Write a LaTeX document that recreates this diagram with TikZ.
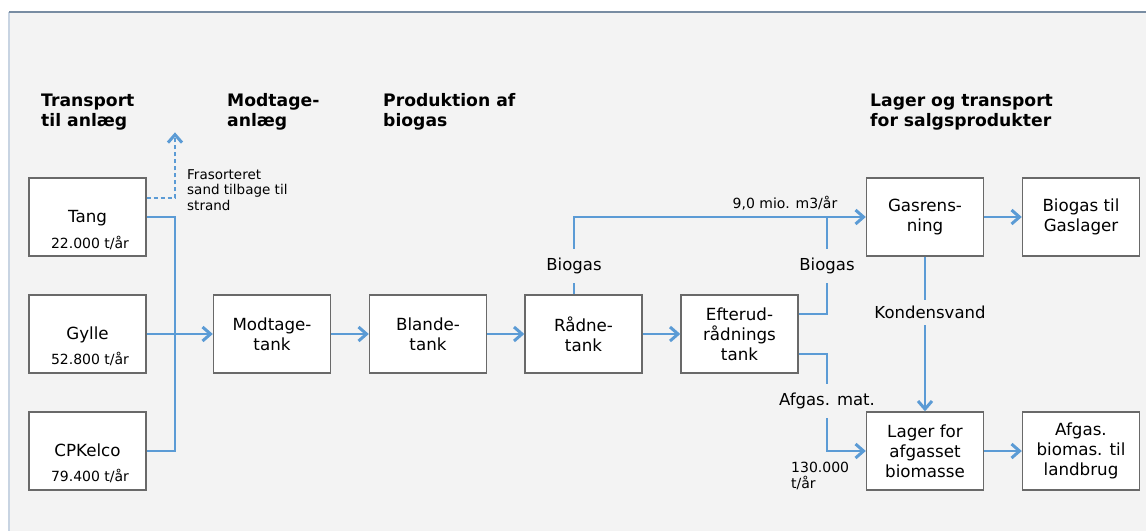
\documentclass[tikz,border=0pt]{standalone}
\usepackage{fontspec}
\setmainfont{DejaVu Sans}
\usetikzlibrary{arrows.meta}
\definecolor{flowblue}{RGB}{91,155,213}
\definecolor{boxgray}{RGB}{105,105,105}
\definecolor{panelbg}{RGB}{243,243,243}
\definecolor{topline}{RGB}{120,140,162}
\definecolor{leftline}{RGB}{200,212,226}
\newcommand\fmain{\fontsize{16.7}{20}\selectfont}
\newcommand\fsub{\fontsize{14}{16}\selectfont}
\newcommand\fhead{\fontsize{17.2}{20}\selectfont\bfseries}
\newcommand\flab{\fontsize{16.5}{20}\selectfont}
\newcommand\fnote{\fontsize{13.5}{15.5}\selectfont}
\tikzset{
  box/.style={draw=boxgray, line width=1.4pt, fill=white, minimum width=117pt,
    minimum height=78pt, inner sep=0pt, align=center, font=\fmain},
  flow/.style={draw=flowblue, line width=2pt},
  arr/.style={flow, -{Straight Barb[length=8pt,width=14pt,line width=3pt]}},
  dflow/.style={draw=flowblue, line width=1.6pt, dash pattern=on 4pt off 3pt,
    -{Straight Barb[length=8pt,width=14pt,line width=3pt,sep]}},
  head/.style={font=\fhead, anchor=north west, inner sep=0pt, align=left},
  lab/.style={font=\flab, inner xsep=2pt, inner ysep=9pt}
}
\begin{document}
\begin{tikzpicture}[x=1pt,y=-1pt]
\useasboundingbox (0,0) rectangle (1146,531);
\fill[white] (0,0) rectangle (1146,531);
\fill[panelbg] (9,12) rectangle (1146,531);
\draw[leftline, line width=2pt] (9,12) -- (9,531);
\draw[topline, line width=2pt] (9,12) -- (1146,12);

% headings
\node[head] (h1) at (41,93.5) {Transport\\til anlæg};
\node[head] (h2) at (227,93.5) {Modtage-\\anlæg};
\node[head] (h3) at (383,93.5) {Produktion af\\biogas};
\node[head] (h4) at (870,93.5) {Lager og transport\\for salgsprodukter};

% source boxes
\node[box] (tang) at (87.5,217) {};
\node[font=\fmain, anchor=base] (tangn) at (87.5,222) {Tang};
\node[font=\fsub, anchor=base] (tanga) at (90,248) {22.000 t/år};
\node[box] (gylle) at (87.5,334) {};
\node[font=\fmain, anchor=base] (gyllen) at (87.5,339) {Gylle};
\node[font=\fsub, anchor=base] (gyllea) at (90,364) {52.800 t/år};
\node[box] (cpk) at (87.5,451) {};
\node[font=\fmain, anchor=base] (cpkn) at (87.5,456) {CPKelco};
\node[font=\fsub, anchor=base] (cpka) at (90,481) {79.400 t/år};

% process boxes
\node[box] (modt) at (272,334) {Modtage-\\tank};
\node[box] (blande) at (428,334) {Blande-\\tank};
\node[box] (radne) at (583.5,334) {Rådne-\\tank};
\node[box] (efter) at (739.5,334) {Efterud-\\rådnings\\tank};
\node[box] (gasr) at (925,217) {Gasrens-\\ning};
\node[box] (gasl) at (1081,217) {Biogas til\\Gaslager};
\node[box] (lager) at (925,451) {Lager for\\afgasset\\biomasse};
\node[box] (afgas) at (1081,451) {Afgas.\\biomas. til\\landbrug};

% labels
\node[lab] (bioA) at (574,266) {Biogas};
\node[lab] (bioB) at (827,266) {Biogas};
\node[lab] (afgm) at (827,401) {Afgas. mat.};
\node[lab, inner ysep=6pt] (kond) at (930,312.5) {Kondensvand};
\node[font=\fsub, anchor=base] (rate) at (785,208.5) {9,0 mio. m3/år};
\node[font=\fsub, anchor=north west, inner sep=0pt, align=left] (amt) at (791,462) {130.000\\t/år};
\node[font=\fnote, anchor=north west, inner sep=0pt, align=left] (sand) at (187,169) {Frasorteret\\sand tilbage til\\strand};

% connectors
\coordinate (jb) at (175,451);
\coordinate (sandtip) at (175,131);
\draw[flow] (tang.east) -| (jb) -- (cpk.east);
\draw[arr] (gylle.east) -- (modt.west);
\draw[dflow] ([yshift=19pt]tang.east) -| (sandtip);
\draw[arr] (modt) -- (blande);
\draw[arr] (blande) -- (radne);
\draw[arr] (radne) -- (efter);
\draw[flow] (radne.north -| bioA) -- (bioA.south);
\draw[arr] (bioA.north) |- (gasr.west);
\draw[flow] ([yshift=20pt]efter.east) -| (bioB.south);
\draw[flow] (bioB.north) -- (bioB.north |- gasr.west);
\draw[flow] ([yshift=-20pt]efter.east) -| (afgm.north);
\draw[arr] (afgm.south) |- (lager.west);
\draw[flow] (gasr.south) -- (gasr.south |- kond.north);
\draw[arr] (gasr.south |- kond.south) -- (lager.north);
\draw[arr] (gasr) -- (gasl);
\draw[arr] (lager) -- (afgas);
\end{tikzpicture}
\end{document}
